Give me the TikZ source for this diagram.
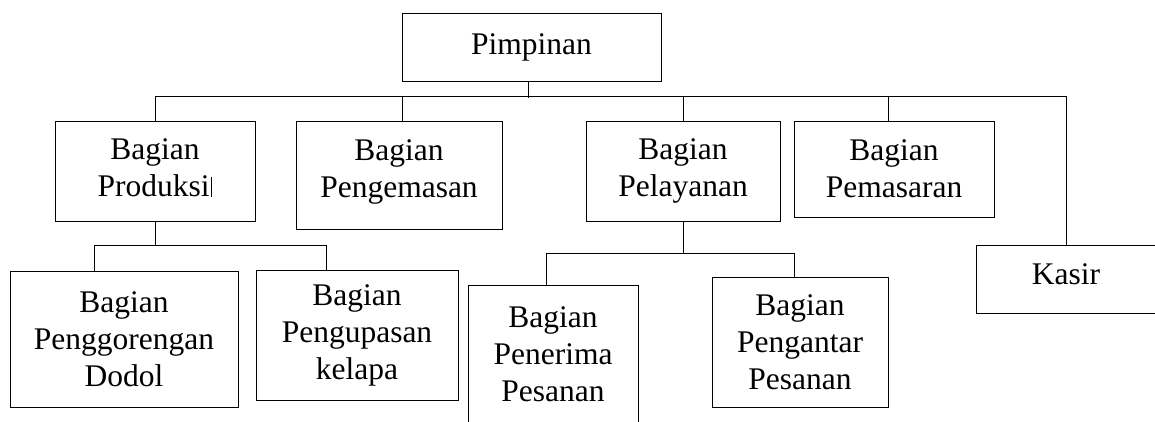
\documentclass[tikz,border=0pt]{standalone}
\usepackage{fontspec}
\setmainfont{Liberation Serif}
\begin{document}
\begin{tikzpicture}[x=1pt,y=-1pt,line width=1pt,
  kotak/.style={draw,align=center,inner sep=0pt,
    font=\fontsize{31.5}{37}\selectfont}]
\useasboundingbox (0,0) rectangle (1155,421);

\node[kotak,minimum width=259,minimum height=68] (pim) at (531.5,47) {Pimpinan};

\node[kotak,minimum width=200,minimum height=100,text depth=6.5pt] (prod) at (155,171) {Bagian\\Produksi\kern1pt\rule{1.6pt}{20pt}};
\node[kotak,minimum width=206,minimum height=108,text depth=12pt] (kemas) at (399,175) {Bagian\\Pengemasan};
\node[kotak,minimum width=194,minimum height=100] (layan) at (683,171) {Bagian\\Pelayanan};
\node[kotak,minimum width=200,minimum height=96] (pasar) at (894,169) {Bagian\\Pemasaran};
\node[kotak,minimum width=180,minimum height=68,text depth=9pt] (kasir) at (1066,279) {Kasir};

\node[kotak,minimum width=228,minimum height=136] (goreng) at (124,339) {Bagian\\Penggorengan\\Dodol};
\node[kotak,minimum width=202,minimum height=130] (kupas) at (357,335) {Bagian\\Pengupasan\\kelapa};
\node[kotak,minimum width=170,minimum height=139] (terima) at (553,354.5) {Bagian\\Penerima\\Pesanan};
\node[kotak,minimum width=176,minimum height=130] (antar) at (800,342) {Bagian\\Pengantar\\Pesanan};

% garis ke pimpinan
\draw (prod.north) -- ++(0,-24) -| (kasir.north);
\draw ([xshift=-3.5pt]pim.south) -- ++(0,16);
\draw ([xshift=3pt]kemas.north) -- ++(0,-24);
\draw (layan.north) -- ++(0,-24);
\draw ([xshift=-6pt]pasar.north) -- ++(0,-24);

% cabang produksi
\draw (prod.south) -- ++(0,24) coordinate (cab1);
\draw ([xshift=-30pt]goreng.north) |- (cab1) -| ([xshift=-31pt]kupas.north);

% cabang pelayanan
\draw (layan.south) -- ++(0,32) coordinate (cab2);
\draw ([xshift=-7pt]terima.north) |- (cab2) -| ([xshift=-6pt]antar.north);

\end{tikzpicture}
\end{document}
